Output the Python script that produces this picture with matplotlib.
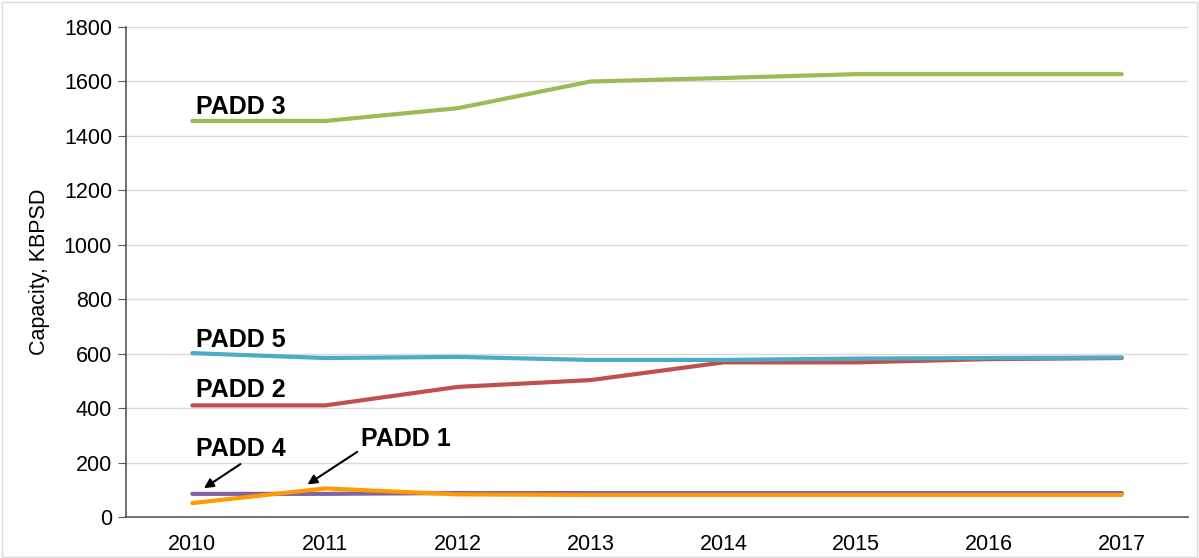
import matplotlib
matplotlib.use("Agg")
import matplotlib.pyplot as plt
from matplotlib.patches import Rectangle

plt.rcParams['font.family'] = ['Liberation Sans', 'DejaVu Sans']

years = ["2010", "2011", "2012", "2013", "2014", "2015", "2016", "2017"]
padd3 = [1455, 1455, 1502, 1600, 1613, 1627, 1627, 1627]
padd5 = [602, 584, 588, 577, 577, 582, 584, 586]
padd2 = [410, 410, 478, 503, 568, 568, 580, 584]
padd4 = [85, 85, 88, 88, 88, 88, 88, 88]
padd1 = [51, 105, 83, 81, 81, 81, 81, 81]

colors = {"PADD 3": "#9BBB59", "PADD 5": "#4BACC6", "PADD 2": "#C0504D",
          "PADD 4": "#8064A2", "PADD 1": "#FF9A00"}

fig = plt.figure(figsize=(11.99, 5.58), dpi=100)
ax = fig.add_axes([0.105, 0.0735, 0.886, 0.878])
x = list(range(len(years)))

ax.plot(x, padd3, color=colors["PADD 3"], lw=3, solid_capstyle='round')
ax.plot(x, padd2, color=colors["PADD 2"], lw=3, solid_capstyle='round')
ax.plot(x, padd5, color=colors["PADD 5"], lw=3, solid_capstyle='round')
ax.plot(x, padd4, color=colors["PADD 4"], lw=3, solid_capstyle='round')
ax.plot(x, padd1, color=colors["PADD 1"], lw=3, solid_capstyle='round')

ax.set_xlim(-0.5, len(years) - 0.5)
ax.set_ylim(0, 1800)
ax.set_yticks(range(0, 1801, 200))
ax.set_xticks(x)
ax.set_xticklabels(years)
ax.tick_params(axis='both', labelsize=15.5, colors='#000000')
ax.tick_params(axis='x', length=0, pad=12)
ax.tick_params(axis='y', length=6, color='#555555', pad=4)
ax.set_ylabel("Capacity, KBPSD", fontsize=15.5, labelpad=10)
ax.grid(axis='y', color='#D9D9D9', lw=1)
ax.set_axisbelow(True)
for s in ['top', 'right']:
    ax.spines[s].set_visible(False)
for s in ['left', 'bottom']:
    ax.spines[s].set_color('#555555')
    ax.spines[s].set_linewidth(1.2)

lab = dict(fontsize=18, fontweight='bold', ha='left', va='center')
ax.text(0.03, 1505, "PADD 3", **lab)
ax.text(0.03, 650, "PADD 5", **lab)
ax.text(0.03, 465, "PADD 2", **lab)
ax.text(0.03, 250, "PADD 4", **lab)
ax.text(1.27, 285, "PADD 1", **lab)

ap = dict(arrowstyle='-|>', color='black', lw=1.5, mutation_scale=14)
ax.annotate("", xy=(0.07, 100), xytext=(0.38, 200), arrowprops=ap)
ax.annotate("", xy=(0.85, 114), xytext=(1.26, 245), arrowprops=ap)

fig.patches.append(Rectangle((0.002, 0.002), 0.996, 0.995, transform=fig.transFigure,
                             fill=False, edgecolor='#D9D9D9', lw=1))

fig.savefig("out.png", dpi=100)
